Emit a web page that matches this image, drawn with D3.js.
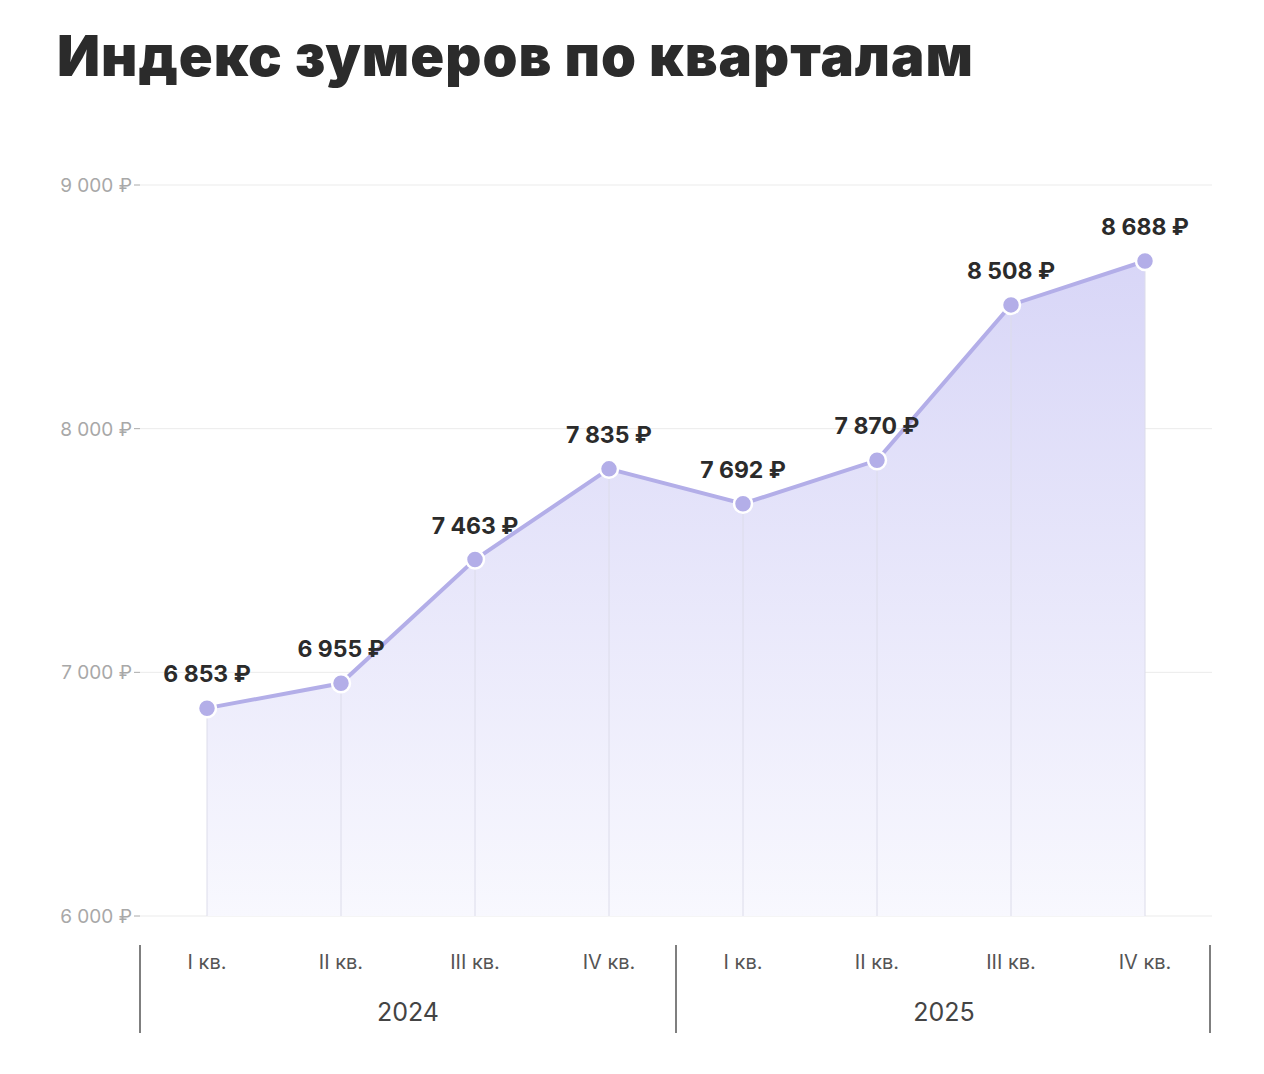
<!DOCTYPE html>
<html><head><meta charset="utf-8">
<script src="https://cdn.jsdelivr.net/npm/d3@7/dist/d3.min.js"></script>
<style>body{margin:0;background:#fff;font-family:Inter,Roboto,sans-serif}</style>
</head><body><svg id="c" width="1264" height="1074"></svg>
<script>
const quarters = ["I кв.","II кв.","III кв.","IV кв.","I кв.","II кв.","III кв.","IV кв."];
const years = ["2024","2025"];
const values = [6853,6955,7463,7835,7692,7870,8508,8688];
const yTicks = [6000,7000,8000,9000];

const svg = d3.select("#c");
const x = d3.scaleBand().domain(d3.range(8)).range([140,1212]);
const y = d3.scaleLinear().domain([6000,9000]).range([916,185]);
const fmt = v => d3.format(",")(v).replace(/,/g," ") + " ₽";

svg.append("text").attr("x",57).attr("y",76).attr("font-size",56).attr("font-weight",900)
  .attr("letter-spacing",1).attr("fill","#2b2b2b").attr("font-family","Inter,Roboto,sans-serif").text("Индекс зумеров по кварталам");

const defs = svg.append("defs");
const g = defs.append("linearGradient").attr("id","gr").attr("x1",0).attr("x2",0).attr("y1",0).attr("y2",1);
g.append("stop").attr("offset","0%").attr("stop-color","#d8d6f7");
g.append("stop").attr("offset","100%").attr("stop-color","#f8f8fe");

yTicks.forEach(t=>{
  svg.append("line").attr("x1",140).attr("x2",1212).attr("y1",y(t)).attr("y2",y(t)).attr("stroke","#ebebeb");
  svg.append("line").attr("x1",134).attr("x2",140).attr("y1",y(t)).attr("y2",y(t)).attr("stroke","#aaa");
  svg.append("text").attr("x",132).attr("y",y(t)+7).attr("text-anchor","end").attr("font-size",19)
    .attr("fill","#a8a8a8").text(fmt(t));
});

const cx = i => x(i)+x.bandwidth()/2;
svg.append("path").datum(values).attr("fill","url(#gr)")
  .attr("d",d3.area().x((d,i)=>cx(i)).y0(916).y1(d=>y(d)));
values.forEach((v,i)=>{
  svg.append("line").attr("x1",cx(i)).attr("x2",cx(i)).attr("y1",y(v)).attr("y2",916).attr("stroke","#dcdcea");
});
svg.append("path").datum(values).attr("fill","none").attr("stroke","#b3aee8").attr("stroke-width",4)
  .attr("d",d3.line().x((d,i)=>cx(i)).y(d=>y(d)));
values.forEach((v,i)=>{
  svg.append("circle").attr("cx",cx(i)).attr("cy",y(v)).attr("r",9).attr("fill","#b3aee8").attr("stroke","#fff").attr("stroke-width",2.5);
  svg.append("text").attr("x",cx(i)).attr("y",y(v)-26).attr("text-anchor","middle").attr("font-size",23)
    .attr("font-weight",700).attr("fill","#2b2b2b").text(fmt(v));
});

[140,676,1210].forEach(px=>svg.append("line").attr("x1",px).attr("x2",px).attr("y1",945).attr("y2",1033).attr("stroke","#555").attr("stroke-width",1.5));
quarters.forEach((q,i)=>svg.append("text").attr("x",cx(i)).attr("y",969).attr("text-anchor","middle")
  .attr("font-size",20).attr("fill","#555").text(q));
years.forEach((yr,j)=>svg.append("text").attr("x",(cx(j*4)+cx(j*4+3))/2).attr("y",1021).attr("text-anchor","middle")
  .attr("font-size",25).attr("fill","#444").text(yr));
</script></body></html>
